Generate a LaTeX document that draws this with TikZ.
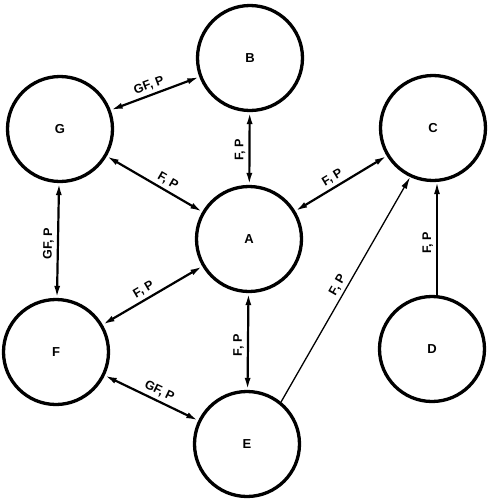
\documentclass[tikz,border=0pt]{standalone}
\usepackage{fontspec}
\setmainfont{Liberation Sans}
\usetikzlibrary{arrows.meta}
\begin{document}
\begin{tikzpicture}[x=1pt,y=-1pt,
  state/.style={circle,draw,line width=3.3pt,minimum size=105pt,inner sep=0pt,font=\fontsize{13}{15}\selectfont\bfseries},
  tip/.tip={Latex[length=12pt,width=6pt]},
  link/.style={line width=2.2pt,tip-tip},
  onelink/.style={line width=1.8pt,-tip},
  thinlink/.style={line width=1.3pt,-tip},
  lab/.style={font=\fontsize{12.5}{14}\selectfont\bfseries,sloped,above,inner sep=3pt}]
\useasboundingbox (0,0) rectangle (489,499);
\node[state] (B) at (250,58) {B};
\node[state] (G) at (60,129) {G};
\node[state] (C) at (433,128) {C};
\node[state] (A) at (249,239) {A};
\node[state] (F) at (56,352) {F};
\node[state] (D) at (432,349) {D};
\node[state] (E) at (247,444) {E};

\draw[link] (G) -- node[lab,pos=0.47] {GF, P} (B);
\draw[link] (G) -- node[lab,pos=0.59] {F, P} (A);
\draw[link] (A) -- node[lab,pos=0.48] {F, P} (B);
\draw[link] (A) -- node[lab,pos=0.46] {F, P} (C);
\draw[link] (F) -- node[lab,pos=0.47] {GF, P} (G);
\draw[link] (F) -- node[lab,pos=0.46] {F, P} (A);
\draw[link] (E) -- node[lab,pos=0.46] {F, P} (A);
\draw[link] (F) -- node[lab,pos=0.54] {GF, P} (E);
\draw[thinlink] (E.51) -- node[lab,pos=0.5] {F, P} (C.-115);
\draw[onelink] (D.north -| 437,0) -- node[lab,pos=0.46] {F, P} (C.south -| 437,0);
\end{tikzpicture}
\end{document}
